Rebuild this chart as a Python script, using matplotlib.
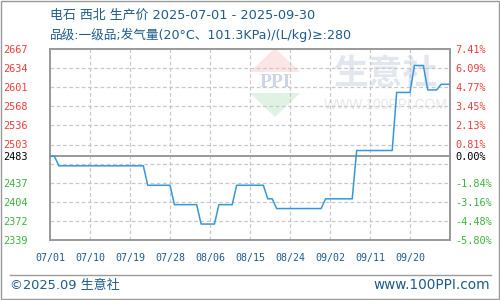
import matplotlib
matplotlib.use('Agg')
import matplotlib.pyplot as plt
import numpy as np
import pandas as pd
from matplotlib.patches import Polygon, Rectangle
from matplotlib.lines import Line2D

# ---------------- data ----------------
title_line1 = "电石 西北 生产价 2025-07-01 - 2025-09-30"
title_line2 = "品级:一级品;发气量(20°C、101.3KPa)/(L/kg)≥:280"
start_date = "2025-07-01"
prices = [
    2483, 2483, 2466.7, 2466.7, 2466.7, 2466.7, 2466.7,
    2466.7, 2466.7, 2466.7, 2466.7, 2466.7, 2466.7, 2466.7,
    2466.7, 2466.7, 2466.7, 2466.7, 2466.7, 2466.7, 2466.7,
    2466.7, 2433.3, 2433.3, 2433.3, 2433.3, 2433.3, 2433.3,
    2400, 2400, 2400, 2400, 2400, 2400, 2366.7,
    2366.7, 2366.7, 2366.7, 2400, 2400, 2400, 2400,
    2433.3, 2433.3, 2433.3, 2433.3, 2433.3, 2433.3, 2433.3,
    2410, 2410, 2393.3, 2393.3, 2393.3, 2393.3, 2393.3,
    2393.3, 2393.3, 2393.3, 2393.3, 2393.3, 2393.3, 2410,
    2410, 2410, 2410, 2410, 2410, 2410, 2493,
    2493, 2493, 2493, 2493, 2493, 2493, 2493,
    2493, 2592.7, 2592.7, 2592.7, 2592.7, 2639, 2639,
    2639, 2597, 2597, 2597, 2606.7, 2606.7, 2606.7,
]
base_price = 2483.33
y_min, y_max = 2339.3, 2667.3
left_labels = ['2339', '2372', '2404', '2437', '2483', '2503', '2536', '2568', '2601', '2634', '2667']
right_labels = ['-5.80%', '-4.48%', '-3.16%', '-1.84%', '0.00%', '0.81%', '2.13%', '3.45%', '4.77%', '6.09%', '7.41%']
x_tick_labels = ['07/01', '07/10', '07/19', '07/28', '08/06', '08/15', '08/24', '09/02', '09/11', '09/20']
x_tick_dates = ['2025-07-01', '2025-07-10', '2025-07-19', '2025-07-28', '2025-08-06',
                '2025-08-15', '2025-08-24', '2025-09-02', '2025-09-11', '2025-09-20']
x_end_date = "2025-09-29"
footer_left = "©2025.09 生意社"
footer_right = "www.100PPI.com"

# ---------------- styles ----------------
W, H = 500, 300
TXT = '#1d5b8c'
RED = '#f03c3c'
GREEN = '#3cb43c'
FRAME = '#999999'
GRID = '#c8c8c8'
LINE = '#3498db'
CJK = ['DejaVu Sans', 'Noto Sans CJK SC']
MONO = 'DejaVu Sans Mono'

def fx(x):
    return x / W

def fy(y):
    return 1 - y / H

fig = plt.figure(figsize=(W / 100, H / 100), dpi=100)
fig.patch.set_facecolor('white')

# watermark (behind the axes)
wm_red = Polygon([(fx(250), fy(72)), (fx(300), fy(72)), (fx(275), fy(48))],
                 closed=True, transform=fig.transFigure, facecolor='#fbe5e5', edgecolor='none', zorder=-2)
wm_green = Polygon([(fx(250), fy(93)), (fx(300), fy(93)), (fx(275), fy(117))],
                   closed=True, transform=fig.transFigure, facecolor='#e0f3e2', edgecolor='none', zorder=-2)
fig.patches.extend([wm_red, wm_green])
fig.text(fx(275), fy(82.5), 'PPI', fontfamily='Liberation Serif', fontweight='bold', fontsize=14,
         color='#cdd5e8', ha='center', va='center', zorder=-1)
fig.text(fx(386), fy(73), '生意社', fontfamily='Noto Sans CJK SC', fontweight='bold', fontsize=25,
         color='#e2e6ef', ha='center', va='center', zorder=-1)
fig.text(fx(386), fy(105), 'WWW.100PPI.COM', fontfamily='Liberation Sans', fontsize=10,
         color='#e8e8e8', ha='center', va='center', zorder=-1)

ax = fig.add_axes([fx(50), fy(240), (450 - 50) / W, (240 - 49) / H])
ax.set_facecolor('none')

dates = pd.date_range(start_date, periods=len(prices), freq='D')
ax.plot(dates, prices, color=LINE, lw=1.1, zorder=5)

ax.set_xlim(pd.Timestamp(start_date), pd.Timestamp(x_end_date))
ax.set_ylim(y_min, y_max)

# grid
grid_vals = np.linspace(y_min, y_max, 11)
for gv in grid_vals[1:-1]:
    ax.axhline(gv, color=GRID, lw=0.9, ls=(0, (3, 2)), zorder=1)
xt = [pd.Timestamp(d) for d in x_tick_dates]
for d in xt[1:]:
    ax.axvline(d, color=GRID, lw=0.9, ls=(0, (3, 2)), zorder=1)
ax.axhline(base_price, color=FRAME, lw=1.4, zorder=2)

for s in ax.spines.values():
    s.set_color(FRAME)
    s.set_linewidth(1.4)

# x ticks
ax.set_xticks(xt)
ax.set_xticklabels(x_tick_labels, fontfamily=MONO, fontsize=7.2, color=TXT)
ax.tick_params(axis='x', length=0, pad=9)

# left y ticks
tick_pos = list(grid_vals)
tick_pos[4] = base_price
ax.set_yticks(tick_pos)
ax.set_yticklabels(left_labels, fontfamily=MONO, fontsize=7.4)
ax.tick_params(axis='y', length=0, pad=16)
for i, lab in enumerate(ax.get_yticklabels()):
    lab.set_color(GREEN if i < 4 else ('black' if i == 4 else RED))

ax2 = ax.twinx()
ax2.set_ylim(y_min, y_max)
ax2.set_yticks(tick_pos)
ax2.set_yticklabels(right_labels, fontfamily=MONO, fontsize=7.4)
ax2.tick_params(axis='y', length=0, pad=4)
for i, lab in enumerate(ax2.get_yticklabels()):
    lab.set_color(GREEN if i < 4 else ('black' if i == 4 else RED))
for s in ax2.spines.values():
    s.set_visible(False)

# titles
fig.text(fx(50), fy(15), title_line1, fontfamily=CJK, fontsize=9.3, color=TXT, ha='left', va='center')
fig.text(fx(50), fy(35), title_line2, fontfamily=CJK, fontsize=9.1, color=TXT, ha='left', va='center')

# footer
fig.add_artist(Line2D([fx(10), fx(491)], [fy(275), fy(275)], transform=fig.transFigure, color=FRAME, lw=1.0))
fig.text(fx(10), fy(285), footer_left, fontfamily=CJK, fontsize=9.4, color=TXT, ha='left', va='center')
fig.text(fx(490), fy(285), footer_right, fontfamily='DejaVu Sans', fontsize=9.8, color=TXT, ha='right', va='center')

# outer border
fig.patches.append(Rectangle((0.001, 0.002), 0.997, 0.995, transform=fig.transFigure,
                             fill=False, edgecolor=FRAME, lw=1.0))

fig.savefig('out.png', dpi=100)
